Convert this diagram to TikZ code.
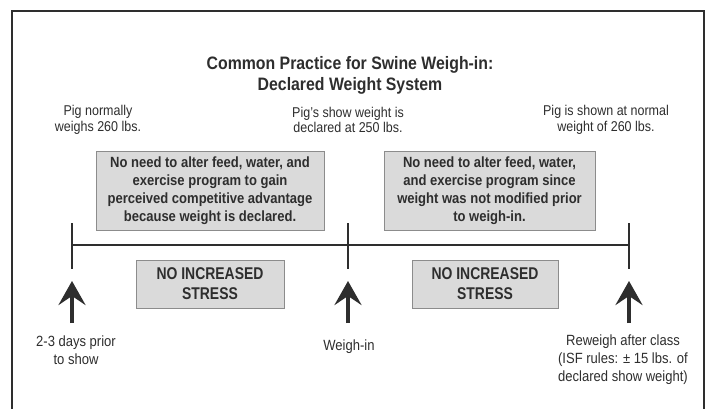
\documentclass[tikz,border=0pt]{standalone}
\usepackage{fontspec}
\setmainfont[FakeStretch=0.88]{Liberation Sans}
\newfontfamily\stressfont[FakeStretch=0.82]{Liberation Sans}
\usetikzlibrary{arrows.meta}
\definecolor{ink}{HTML}{2E2E2E}
\definecolor{boxfill}{HTML}{DADADA}
\definecolor{boxline}{HTML}{8C8C8C}
\tikzset{
  frameline/.style={draw=ink, line width=1.6pt},
  titletext/.style={text=ink, align=center, font=\fontsize{18}{21.5}\selectfont\bfseries, inner sep=0pt},
  toplabel/.style={text=ink, align=center, font=\fontsize{14.2}{15.5}\selectfont, inner sep=0pt},
  botlabel/.style={text=ink, align=center, font=\fontsize{14.8}{18}\selectfont, inner sep=0pt},
  notebox/.style={draw=boxline, fill=boxfill, line width=1pt, text=ink, align=center,
    font=\fontsize{14.8}{18}\selectfont\bfseries, inner sep=0pt, minimum height=79pt},
  stressbox/.style={draw=boxline, fill=boxfill, line width=1pt, text=ink, align=center,
    font=\stressfont\fontsize{17}{20}\selectfont\bfseries, inner sep=0pt, minimum height=48pt},
  timeline/.style={draw=ink, line width=1.6pt},
  bigarrow/.style={draw=ink, line width=4.5pt, -{Stealth[width=27pt,length=24pt,inset=9pt]}},
}
\begin{document}
\begin{tikzpicture}[x=1pt,y=-1pt]
\useasboundingbox (0,0) rectangle (709,409);
\fill[white] (0,0) rectangle (709,409);
% frame
\draw[frameline] (12,412) -- (12,11) -- (704,11) -- (704,412);

% title
\node[titletext] (title) at (350,75.5) {Common Practice for Swine Weigh-in:\\Declared Weight System};

% top labels
\node[toplabel] (top1) at (98,120) {Pig normally\\weighs 260 lbs.};
\node[toplabel] (top2) at (348,120) {Pig's show weight is\\declared at 250 lbs.};
\node[toplabel] (top3) at (606,120) {Pig is shown at normal\\weight of 260 lbs.};

% note boxes
\node[notebox, minimum width=228pt] (note1) at (210,190.5)
  {No need to alter feed, water, and\\exercise program to gain\\perceived competitive advantage\\because weight is declared.};
\node[notebox, minimum width=211pt] (note2) at (489.5,190.5)
  {No need to alter feed, water,\\and exercise program since\\weight was not modified prior\\to weigh-in.};

% timeline
\coordinate (t1) at (72,245);
\coordinate (t2) at (348,245);
\coordinate (t3) at (629,245);
\coordinate (t1a) at (72,223); \coordinate (t1b) at (72,269);
\coordinate (t2a) at (348,223); \coordinate (t2b) at (348,269);
\coordinate (t3a) at (629,223); \coordinate (t3b) at (629,269);
\draw[timeline] (t1) -- (t3);
\draw[timeline] (t1a) -- (t1b);
\draw[timeline] (t2a) -- (t2b);
\draw[timeline] (t3a) -- (t3b);

% stress boxes
\node[stressbox, minimum width=148pt] (stress1) at (210,284) {NO INCREASED\\STRESS};
\node[stressbox, minimum width=146pt] (stress2) at (485,284) {NO INCREASED\\STRESS};

% arrows
\coordinate (a1s) at (72,323); \coordinate (a1e) at (72,281);
\coordinate (a2s) at (348,323); \coordinate (a2e) at (348,281);
\coordinate (a3s) at (629,323); \coordinate (a3e) at (629,281);
\draw[bigarrow] (a1s) -- (a1e);
\draw[bigarrow] (a2s) -- (a2e);
\draw[bigarrow] (a3s) -- (a3e);

% bottom labels
\node[botlabel] (bot1) at (76,350.5) {2-3 days prior\\to show};
\node[botlabel] (bot2) at (349,347) {Weigh-in};
\node[botlabel] (bot3) at (623,359.5) {Reweigh after class\\(ISF rules: ± 15 lbs. of\\declared show weight)};
\end{tikzpicture}
\end{document}
